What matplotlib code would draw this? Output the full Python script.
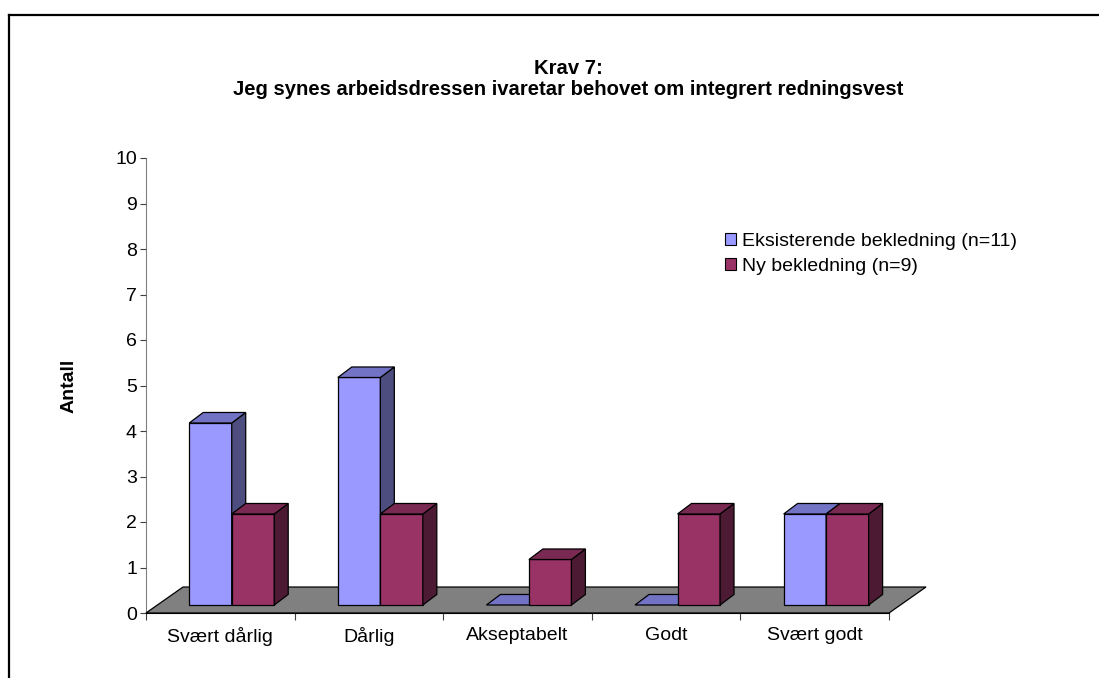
import matplotlib
matplotlib.use("Agg")
import matplotlib.pyplot as plt
from matplotlib.patches import Polygon, Patch
from matplotlib.lines import Line2D

plt.rcParams["font.family"] = ["Liberation Sans", "DejaVu Sans"]

categories = ["Svært dårlig", "Dårlig", "Akseptabelt", "Godt", "Svært godt"]
existing = [4, 5, 0, 0, 2]
new = [2, 2, 1, 2, 2]
series_names = ["Eksisterende bekledning (n=11)", "Ny bekledning (n=9)"]
title = "Krav 7:\nJeg synes arbeidsdressen ivaretar behovet om integrert redningsvest"

# face colours (front, top, side) per series
colors = [("#9999FF", "#7373C6", "#4D4D80"),
          ("#993366", "#7A2952", "#4C1A33")]

# 3d look, in data units
floor_dx, floor_dy = 0.249, 0.571
front_dx, front_dy = 0.077, 0.176
depth_dx, depth_dy = 0.094, 0.231
bar_w = 0.286

fig = plt.figure(figsize=(10.99, 6.78), dpi=100)
W, H = 1099, 678
ax = fig.add_axes([146 / W, 65 / H, (889 - 146) / W, (613 - 158) / H])
ax.set_xlim(-0.5, len(categories) - 0.5)
ax.set_ylim(0, 10)


def poly(pts, fc):
    ax.add_patch(Polygon(pts, closed=True, facecolor=fc, edgecolor="black",
                         lw=0.9, clip_on=False, joinstyle="miter"))


# floor
x0, x1 = -0.5, len(categories) - 0.5
poly([(x0, 0), (x1, 0), (x1 + floor_dx, floor_dy), (x0 + floor_dx, floor_dy)], "#808080")


def bar3d(x, v, cols):
    front, top, side = cols
    b = front_dy
    xl = x + front_dx
    xr = xl + bar_w
    if v > 0:
        poly([(xl, b), (xr, b), (xr, b + v), (xl, b + v)], front)
        poly([(xr, b), (xr + depth_dx, b + depth_dy),
              (xr + depth_dx, b + v + depth_dy), (xr, b + v)], side)
    poly([(xl, b + v), (xr, b + v), (xr + depth_dx, b + v + depth_dy),
          (xl + depth_dx, b + v + depth_dy)], top)


for i in range(len(categories)):
    bar3d(i - bar_w, existing[i], colors[0])
    bar3d(i, new[i], colors[1])

# axes styling
for s in ("top", "right"):
    ax.spines[s].set_visible(False)
ax.spines["left"].set_color("#808080")
ax.spines["bottom"].set_color("black")
ax.spines["left"].set_zorder(0)
ax.set_yticks(range(0, 11))
ax.tick_params(axis="y", length=4.5, width=0.8, color="#404040", labelsize=14, pad=2)
ax.set_xticks(range(len(categories)))
ax.set_xticklabels(categories)
ax.set_xticks([i - 0.5 for i in range(len(categories) + 1)], minor=True)
ax.tick_params(axis="x", which="major", length=0, labelsize=14, pad=10)
ax.tick_params(axis="x", which="minor", length=5, width=0.8, color="#404040")
ax.set_ylabel("Antall", fontsize=14, fontweight="bold", labelpad=27)

fig.text(568 / W, 1 - 79 / H, title, ha="center", va="center", fontsize=14.6,
         fontweight="bold", linespacing=1.1)

handles = [Patch(facecolor=c[0], edgecolor="black", lw=0.8) for c in colors]
fig.legend(handles, series_names, loc="upper left", bbox_to_anchor=(725 / W, 1 - 233 / H),
           frameon=False, fontsize=14, handlelength=0.55, handleheight=0.55,
           handletextpad=0.3, labelspacing=0.4, borderaxespad=0, borderpad=0)

# outer chart border (left and top edges visible)
fig.add_artist(Line2D([8.5 / W, 8.5 / W], [0, 1 - 14.5 / H], color="black", lw=1.6,
                      transform=fig.transFigure))
fig.add_artist(Line2D([8.5 / W, 1], [1 - 14.5 / H, 1 - 14.5 / H], color="black", lw=1.6,
                      transform=fig.transFigure))

fig.savefig("out.png", dpi=100)
